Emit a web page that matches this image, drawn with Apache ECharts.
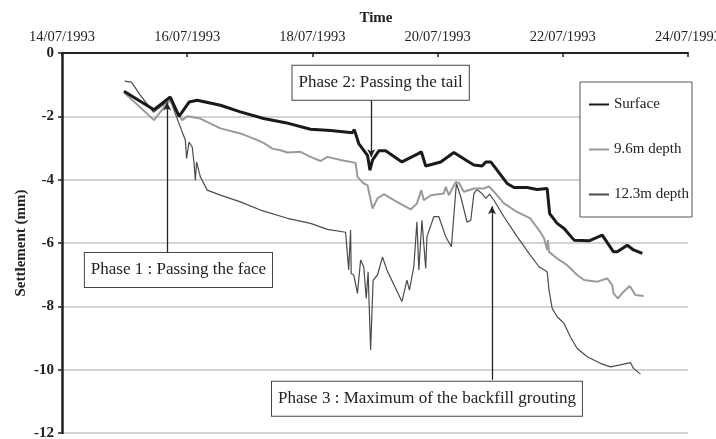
<!DOCTYPE html>
<html>
<head>
<meta charset="utf-8">
<script src="https://cdn.jsdelivr.net/npm/echarts@6/dist/echarts.min.js"></script>
<style>
  html, body { margin: 0; padding: 0; background: #fff; }
  #chart { width: 716px; height: 439px; }
</style>
</head>
<body>
<div id="chart"></div>
<script>
// time in days of July 1993, settlement in mm
const surfaceDays = [14.99, 15.47, 15.73, 15.87, 16.03, 16.16, 16.53, 16.85, 17.22, 17.57, 17.97, 18.29, 18.64, 18.67, 18.74, 18.88, 18.92, 18.96, 19.06, 19.17, 19.43, 19.70, 19.74, 19.81, 20.05, 20.26, 20.50, 20.58, 20.71, 20.77, 20.85, 20.95, 21.11, 21.22, 21.43, 21.59, 21.75, 21.79, 21.91, 22.02, 22.18, 22.42, 22.63, 22.65, 22.81, 22.87, 23.03, 23.13, 23.27]
const surfaceVals = [-1.21, -1.79, -1.39, -2.00, -1.55, -1.49, -1.65, -1.86, -2.07, -2.20, -2.41, -2.45, -2.52, -2.42, -2.86, -3.23, -3.70, -3.38, -3.09, -3.09, -3.44, -3.17, -3.12, -3.57, -3.44, -3.14, -3.44, -3.54, -3.57, -3.44, -3.44, -3.70, -4.12, -4.25, -4.25, -4.31, -4.28, -5.07, -5.38, -5.54, -5.91, -5.93, -5.75, -5.70, -6.28, -6.28, -6.07, -6.22, -6.33]

const depth96Days = [15.00, 15.47, 15.72, 15.92, 16.00, 16.21, 16.53, 16.85, 17.12, 17.22, 17.36, 17.49, 17.60, 17.81, 17.97, 18.13, 18.24, 18.45, 18.69, 18.72, 18.82, 18.88, 18.96, 19.04, 19.14, 19.35, 19.57, 19.67, 19.74, 19.78, 19.89, 20.10, 20.13, 20.18, 20.29, 20.34, 20.42, 20.58, 20.74, 20.82, 20.90, 21.06, 21.27, 21.48, 21.64, 21.70, 21.75, 21.76, 21.78, 21.91, 22.07, 22.23, 22.34, 22.55, 22.71, 22.79, 22.81, 22.88, 22.97, 23.07, 23.16, 23.29]
const depth96Vals = [-1.26, -2.12, -1.49, -2.12, -2.00, -2.07, -2.38, -2.54, -2.75, -2.84, -3.02, -3.07, -3.14, -3.12, -3.28, -3.41, -3.28, -3.38, -3.47, -3.91, -4.12, -4.17, -4.91, -4.59, -4.46, -4.70, -4.94, -4.75, -4.33, -4.65, -4.49, -4.44, -4.23, -4.49, -4.07, -4.10, -4.38, -4.28, -4.28, -4.21, -4.38, -4.75, -5.02, -5.22, -5.65, -5.85, -6.22, -5.91, -6.28, -6.49, -6.70, -7.01, -7.17, -7.22, -7.12, -7.33, -7.59, -7.75, -7.54, -7.36, -7.64, -7.67]

const depth123Days = [15.00, 15.11, 15.25, 15.46, 15.65, 15.73, 15.87, 15.97, 15.99, 16.03, 16.08, 16.11, 16.13, 16.15, 16.21, 16.32, 16.53, 16.85, 17.17, 17.60, 17.97, 18.24, 18.53, 18.58, 18.61, 18.62, 18.66, 18.72, 18.77, 18.82, 18.86, 18.89, 18.93, 18.97, 19.04, 19.12, 19.19, 19.43, 19.51, 19.55, 19.62, 19.67, 19.70, 19.75, 19.81, 19.83, 19.94, 20.02, 20.13, 20.22, 20.30, 20.37, 20.47, 20.53, 20.58, 20.63, 20.71, 20.77, 20.83, 20.90, 21.06, 21.27, 21.48, 21.62, 21.75, 21.78, 21.83, 21.91, 22.02, 22.12, 22.23, 22.39, 22.60, 22.76, 22.92, 23.08, 23.13, 23.24]
const depth123Vals = [-0.89, -0.92, -1.33, -1.87, -1.59, -1.49, -2.23, -2.75, -3.33, -2.81, -2.97, -3.49, -4.02, -3.44, -3.91, -4.33, -4.49, -4.70, -4.96, -5.22, -5.38, -5.57, -5.66, -6.85, -5.59, -6.96, -7.01, -7.59, -6.54, -6.75, -7.75, -6.91, -9.38, -7.17, -7.01, -6.44, -6.85, -7.85, -7.17, -7.49, -6.75, -5.33, -6.85, -5.28, -6.80, -5.80, -5.17, -5.17, -5.80, -6.12, -4.12, -4.54, -5.34, -5.28, -4.44, -4.31, -4.44, -4.59, -4.46, -4.65, -5.17, -5.80, -6.38, -6.75, -6.91, -7.49, -8.06, -8.33, -8.54, -8.96, -9.33, -9.59, -9.80, -9.91, -9.85, -9.78, -9.96, -10.14]

const seriesNames = ['Surface', '9.6m depth', '12.3m depth']

// phase annotations: box centre and arrow (x from box edge to tip), data units
const phases = [
  { text: 'Phase 1 : Passing the face', boxX: 15.86, boxY: -6.85, lineX: 15.68, fromY: -6.30, toY: -1.56 },
  { text: 'Phase 2: Passing the tail', boxX: 19.09, boxY: -0.94, lineX: 18.94, fromY: -1.46, toY: -3.29 },
  { text: 'Phase 3 : Maximum of the backfill grouting', boxX: 19.83, boxY: -10.92, lineX: 20.87, fromY: -10.32, toY: -4.84 }
]

const serif = 'Liberation Serif'
const zip = (xs, ys) => xs.map((x, i) => [x, ys[i]])
const titleStyle = { fontFamily: serif, fontSize: 15, fontWeight: 'bold', fill: '#222', align: 'center', verticalAlign: 'middle' }

const chart = echarts.init(document.getElementById('chart'))

chart.setOption({
  animation: false,
  grid: { left: 62, right: 28, top: 53, bottom: 6, outerBoundsMode: 'none' },
  legend: {
    orient: 'vertical',
    left: 580,
    top: 82,
    padding: [15, 3, 15, 8],
    itemGap: 30,
    itemWidth: 20,
    itemHeight: 14,
    borderColor: '#555',
    borderWidth: 1,
    backgroundColor: '#fff',
    itemStyle: { opacity: 0 },
    data: seriesNames,
    textStyle: { fontFamily: serif, fontSize: 15, color: '#222' }
  },
  xAxis: {
    type: 'value',
    position: 'top',
    min: 14,
    max: 24,
    interval: 2,
    axisLine: { onZero: false, lineStyle: { color: '#222', width: 2 } },
    axisTick: { inside: true, length: 4, lineStyle: { color: '#222', width: 1.5 } },
    axisLabel: {
      margin: 8,
      fontFamily: serif,
      fontSize: 14.5,
      color: '#222',
      formatter: v => String(v).padStart(2, '0') + '/07/1993'
    },
    splitLine: { show: false }
  },
  yAxis: {
    type: 'value',
    min: -12,
    max: 0,
    interval: 2,
    axisLine: { show: true, lineStyle: { color: '#222', width: 2.5 } },
    axisTick: { show: true, length: 4, lineStyle: { color: '#222', width: 1.5 } },
    axisLabel: { margin: 8, fontFamily: serif, fontSize: 15, fontWeight: 'bold', color: '#222' },
    splitLine: { lineStyle: { color: '#c4c4c4', width: 1.5 } }
  },
  series: [
    {
      name: 'Surface',
      type: 'line',
      symbol: 'none',
      data: zip(surfaceDays, surfaceVals),
      lineStyle: { color: '#1a1a1a', width: 3 },
      itemStyle: { color: '#1a1a1a' },
      z: 4
    },
    {
      name: '9.6m depth',
      type: 'line',
      symbol: 'none',
      data: zip(depth96Days, depth96Vals),
      lineStyle: { color: '#9a9a9a', width: 2 },
      itemStyle: { color: '#9a9a9a' },
      z: 3
    },
    {
      name: '12.3m depth',
      type: 'line',
      symbol: 'none',
      data: zip(depth123Days, depth123Vals),
      lineStyle: { color: '#4a4a4a', width: 1.2 },
      itemStyle: { color: '#4a4a4a' },
      z: 2,
      markLine: {
        silent: true,
        symbol: ['none', 'arrow'],
        symbolSize: [6, 8],
        label: { show: false },
        lineStyle: { color: '#222', width: 1.3, type: 'solid' },
        data: phases.map(p => [{ coord: [p.lineX, p.fromY] }, { coord: [p.lineX, p.toY] }])
      }
    }
  ]
})

// axis titles and the phase text boxes
const boxes = phases.map(p => {
  const [px, py] = chart.convertToPixel({ gridIndex: 0 }, [p.boxX, p.boxY])
  return {
    type: 'text',
    x: px,
    y: py,
    z: 100,
    style: {
      text: p.text,
      fontFamily: serif,
      fontSize: 17,
      fill: '#222',
      align: 'center',
      verticalAlign: 'middle',
      backgroundColor: '#fff',
      borderColor: '#444',
      borderWidth: 1,
      padding: [9, 6, 8, 6]
    }
  }
})

chart.setOption({
  graphic: [
    { type: 'text', x: 376, y: 18, style: Object.assign({ text: 'Time' }, titleStyle) },
    { type: 'text', x: 21, y: 243, rotation: Math.PI / 2, style: Object.assign({ text: 'Settlement (mm)' }, titleStyle) }
  ].concat(boxes)
})
</script>
</body>
</html>
